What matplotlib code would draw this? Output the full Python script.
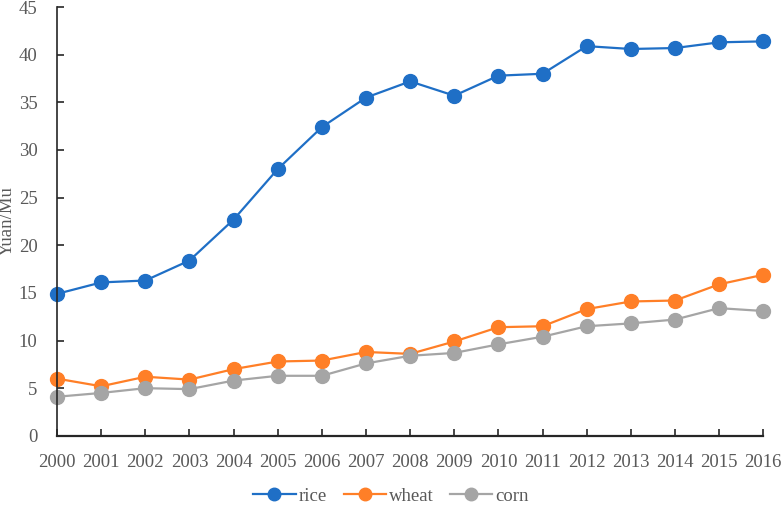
import matplotlib.pyplot as plt

years = list(range(2000, 2017))
rice = [14.9, 16.1, 16.3, 18.4, 22.7, 28.0, 32.4, 35.5, 37.2, 35.7, 37.8,
        38.0, 40.9, 40.6, 40.7, 41.3, 41.4]
wheat = [6.0, 5.2, 6.2, 5.9, 7.0, 7.8, 7.9, 8.8, 8.6, 9.9, 11.4,
         11.5, 13.3, 14.1, 14.2, 15.9, 16.9]
corn = [4.1, 4.5, 5.0, 4.9, 5.8, 6.3, 6.3, 7.6, 8.4, 8.7, 9.6,
        10.4, 11.5, 11.8, 12.2, 13.4, 13.1]

plt.rcParams['font.family'] = ['Liberation Serif', 'DejaVu Serif']
text_color = '#595959'

fig = plt.figure(figsize=(7.82, 5.05), dpi=100)
ax = fig.add_axes([0.073, 0.137, 0.903, 0.849])

series = [('rice', rice, '#1F6FC6'), ('wheat', wheat, '#FF7F27'), ('corn', corn, '#A5A5A5')]
for name, vals, col in series:
    ax.plot(years, vals, color=col, lw=1.6, marker='o', markersize=10, label=name,
            clip_on=False)

ax.set_xlim(2000, 2016)
ax.set_ylim(0, 45)
ax.set_xticks(years)
ax.set_yticks(range(0, 46, 5))

# only left and bottom axis lines, like the excel chart
ax.spines['top'].set_visible(False)
ax.spines['right'].set_visible(False)
ax.spines['left'].set_color('#262626')
ax.spines['bottom'].set_color('#262626')
ax.spines['left'].set_linewidth(1.2)
ax.spines['bottom'].set_linewidth(1.6)

ax.tick_params(axis='x', direction='in', length=5, width=1.2, color='#262626',
               labelsize=13.5, labelcolor=text_color, pad=13)
ax.tick_params(axis='y', direction='in', length=5, width=1.2, color='#262626',
               labelsize=13.5, labelcolor=text_color, pad=14)

ax.set_ylabel('Yuan/Mu', fontsize=13.5, color=text_color)
ax.yaxis.set_label_coords(-0.058, 0.5)

# legend is centred on the whole figure, not on the axes
leg = fig.legend(loc='center', bbox_to_anchor=(0.5, 0.017), ncol=3, frameon=False,
                 fontsize=13.5, handlelength=2.25, columnspacing=0.9, handletextpad=0.15,
                 markerscale=0.9)
for t in leg.get_texts():
    t.set_color(text_color)

fig.savefig('out.png', dpi=100)
